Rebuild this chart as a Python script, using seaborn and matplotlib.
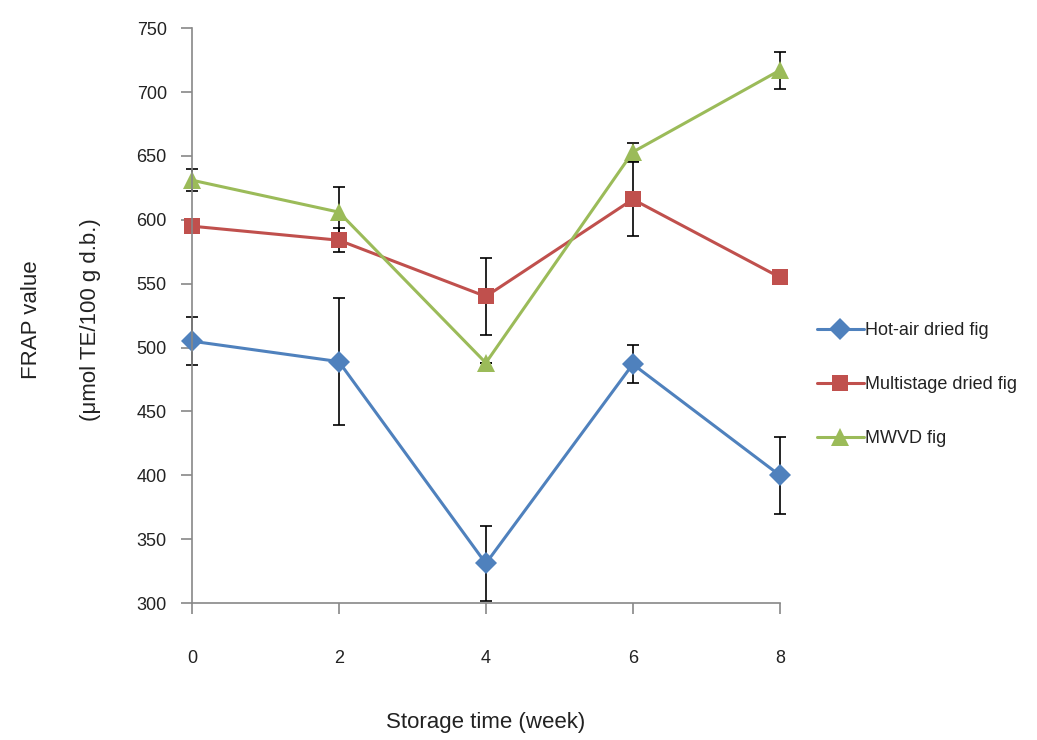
import pandas as pd
import numpy as np
import matplotlib as mpl
mpl.use("Agg")
import matplotlib.pyplot as plt
import seaborn as sns
from matplotlib.lines import Line2D

# dados
weeks = [0, 2, 4, 6, 8]
hot_air = [505, 489, 331, 487, 400]
hot_air_err = [19, 50, 29, 15, 30]
multistage = [595, 584, 540, 616, 555]
multistage_err = [3, 9.5, 30, 29, 0]
mwvd = [631, 606, 488, 653, 717]
mwvd_err = [8.5, 19.5, 0, 7, 14.5]

names = ["Hot-air dried fig", "Multistage dried fig", "MWVD fig"]
values = [hot_air, multistage, mwvd]
errors = [hot_air_err, multistage_err, mwvd_err]

df = pd.DataFrame({
    "week": weeks * 3,
    "frap": hot_air + multistage + mwvd,
    "sample": [n for n in names for _ in weeks],
})

cores = {"Hot-air dried fig": "#4F81BD",
         "Multistage dried fig": "#C0504D",
         "MWVD fig": "#9BBB59"}
marcadores = {"Hot-air dried fig": "D",
              "Multistage dried fig": "s",
              "MWVD fig": "^"}
tamanhos = {"Hot-air dried fig": 11, "Multistage dried fig": 12, "MWVD fig": 13}

sns.set_style("white")
plt.rcParams['font.family'] = ['Liberation Sans', 'DejaVu Sans']

fig = plt.figure(figsize=(10.37, 7.4), dpi=100)
ax = fig.add_axes([0.185, 0.185, 0.567, 0.777])

# barras de erro primeiro (ficam atrás dos marcadores)
for n, v, e in zip(names, values, errors):
    eb = ax.errorbar(weeks, v, yerr=e, fmt="none", ecolor="black",
                     elinewidth=1.2, capsize=4, capthick=1.2, zorder=1)
    for art in eb.lines[1] + eb.lines[2]:
        art.set_clip_on(False)

sns.lineplot(data=df, x="week", y="frap", hue="sample", style="sample",
             palette=cores, markers=marcadores, dashes=False,
             linewidth=2.2, markeredgewidth=0, ax=ax, legend=False, zorder=2)
for line, n in zip(ax.lines[-3:], names):
    line.set_markersize(tamanhos[n])
    line.set_clip_on(False)

ax.set_xlim(0, 8)
ax.set_ylim(300, 750)
ax.set_xticks(weeks)
ax.set_yticks(np.arange(300, 751, 50))

for s in ["top", "right"]:
    ax.spines[s].set_visible(False)
for s in ["left", "bottom"]:
    ax.spines[s].set_color("#888888")
    ax.spines[s].set_linewidth(1.2)
ax.tick_params(axis="both", direction="out", length=8, width=1.2,
               left=True, bottom=True,
               color="#888888", labelsize=13, labelcolor="#222222", pad=10)
ax.tick_params(axis="x", pad=26)

ax.set_xlabel("Storage time (week)", fontsize=16, color="#222222", labelpad=32)
ax.set_ylabel("")
fig.text(0.03, 0.568, "FRAP value", rotation=90, fontsize=16,
         color="#222222", ha="center", va="center")
fig.text(0.087, 0.568, "(μmol TE/100 g d.b.)", rotation=90, fontsize=16,
         color="#222222", ha="center", va="center")

# legenda
handles = [Line2D([], [], color=cores[n], marker=marcadores[n], markersize=tamanhos[n],
                  markeredgewidth=0, linewidth=2.2) for n in names]
ax.legend(handles, names, loc="center left", bbox_to_anchor=(1.035, 0.38),
          frameon=False, fontsize=13, labelspacing=2.05, handlelength=2.6,
          handletextpad=0.1, labelcolor="#222222")

plt.savefig("out.png", dpi=100)
